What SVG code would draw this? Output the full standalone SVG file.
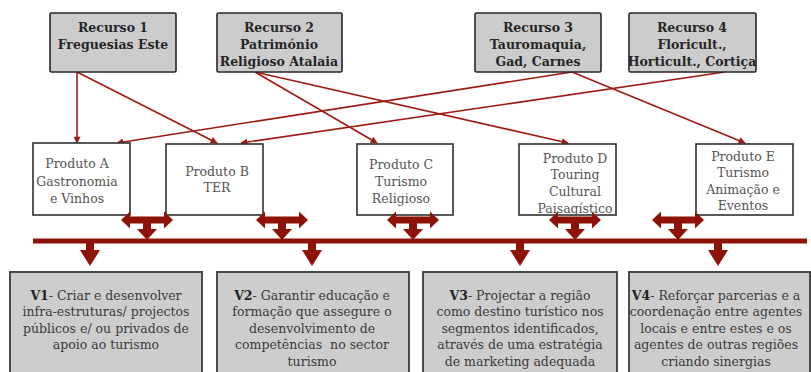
<svg xmlns="http://www.w3.org/2000/svg" width="811" height="372" viewBox="0 0 811 372">
<defs>
<style>
.res rect{fill:#cccccc;stroke:#262626;stroke-width:1.6}
.res text{font-family:"DejaVu Serif","Liberation Serif",serif;font-weight:bold;font-size:12.5px;fill:#262626;text-anchor:middle}
.prod rect{fill:#ffffff;stroke:#303030;stroke-width:1.6}
.prod text{font-family:"DejaVu Serif","Liberation Serif",serif;font-size:12.5px;fill:#555555;text-anchor:middle}
.vec rect{fill:#cdcdcd;stroke:#4a4a4a;stroke-width:2}
.vec text{font-family:"DejaVu Serif","Liberation Serif",serif;font-size:12.5px;fill:#3a3a3a;text-anchor:middle}
.vec tspan.b{font-weight:bold;fill:#222}
.conn line{stroke:#a01a14;stroke-width:1.6;marker-end:url(#ah)}
.blk{fill:#8e1208}
</style>
<marker id="ah" viewBox="0 0 10 10" refX="9" refY="5" markerWidth="8" markerHeight="7" markerUnits="userSpaceOnUse" orient="auto">
<path d="M0,0 L10,5 L0,10 Z" fill="#a01a14"/>
</marker>
<path id="lrd" d="M-26,220 L-17,211.5 L-17,216.5 L17,216.5 L17,211.5 L26,220 L17,228.5 L17,223.5 L4,223.5 L4,229 L10,229 L0,240 L-10,229 L-4,229 L-4,223.5 L-17,223.5 L-17,228.5 Z"/>
<path id="dn" d="M-4,242 L4,242 L4,250 L10,250 L0,266 L-10,250 L-4,250 Z"/>
</defs>
<rect width="811" height="372" fill="#ffffff"/>

<g id="connectors" class="conn">
<line x1="77" y1="72" x2="77" y2="143"/>
<line x1="77" y1="72" x2="217" y2="143"/>
<line x1="255" y1="72" x2="377" y2="143"/>
<line x1="255" y1="72" x2="568" y2="143"/>
<line x1="572" y1="72" x2="117" y2="143"/>
<line x1="572" y1="72" x2="745" y2="143"/>
<line x1="725" y1="72" x2="241" y2="143"/>
</g>

<g id="recurso1" class="res">
<rect x="50" y="13" width="126" height="59" rx="1.5"/>
<text x="113" y="31.5">Recurso 1</text>
<text x="113" y="48.5">Freguesias Este</text>
</g>
<g id="recurso2" class="res">
<rect x="217" y="13" width="125" height="59" rx="1.5"/>
<text x="279" y="31.5">Recurso 2</text>
<text x="279" y="48.5">Património</text>
<text x="279" y="65.5">Religioso Atalaia</text>
</g>
<g id="recurso3" class="res">
<rect x="475" y="13" width="126" height="59" rx="1.5"/>
<text x="538" y="31.5">Recurso 3</text>
<text x="538" y="48.5">Tauromaquia,</text>
<text x="538" y="65.5">Gad, Carnes</text>
</g>
<g id="recurso4" class="res">
<rect x="629" y="13" width="127" height="59" rx="1.5"/>
<text x="692" y="31.5">Recurso 4</text>
<text x="692" y="48.5">Floricult.,</text>
<text x="692" y="65.5">Horticult., Cortiça</text>
</g>

<g id="produtoA" class="prod">
<rect x="33" y="143" width="97" height="72"/>
<text x="77" y="167.5">Produto A</text>
<text x="77" y="185.5">Gastronomia</text>
<text x="77" y="202.5">e Vinhos</text>
</g>
<g id="produtoB" class="prod">
<rect x="166" y="144" width="97" height="71"/>
<text x="217" y="176">Produto B</text>
<text x="217" y="191.5">TER</text>
</g>
<g id="produtoC" class="prod">
<rect x="357" y="144" width="96" height="71"/>
<text x="401" y="168.5">Produto C</text>
<text x="401" y="185.5">Turismo</text>
<text x="401" y="202.5">Religioso</text>
</g>
<g id="produtoD" class="prod">
<rect x="519" y="144" width="97" height="71"/>
<text x="575" y="162.5">Produto D</text>
<text x="575" y="178.5">Touring</text>
<text x="575" y="195.5">Cultural</text>
<text x="575" y="212.5">Paisagístico</text>
</g>
<g id="produtoE" class="prod">
<rect x="696" y="144" width="97" height="71"/>
<text x="743" y="160.5">Produto E</text>
<text x="743" y="176.5">Turismo</text>
<text x="743" y="193.5">Animação e</text>
<text x="743" y="209.5">Eventos</text>
</g>

<g id="barra" class="blk">
<rect x="33" y="238.5" width="774" height="5"/>
<use href="#lrd" x="147"/>
<use href="#lrd" x="282"/>
<use href="#lrd" x="413"/>
<use href="#lrd" x="575"/>
<use href="#lrd" x="678"/>
<use href="#dn" x="90"/>
<use href="#dn" x="312"/>
<use href="#dn" x="520"/>
<use href="#dn" x="718"/>
</g>

<g id="v1" class="vec">
<rect x="10" y="272" width="192" height="110"/>
<text x="106" y="299.5"><tspan class="b">V1</tspan>- Criar e desenvolver</text>
<text x="106" y="316">infra-estruturas/ projectos</text>
<text x="106" y="332.5">públicos e/ ou privados de</text>
<text x="106" y="349">apoio ao turismo</text>
</g>
<g id="v2" class="vec">
<rect x="217" y="272" width="192" height="110"/>
<text x="312" y="299.5"><tspan class="b">V2</tspan>- Garantir educação e</text>
<text x="312" y="316">formação que assegure o</text>
<text x="312" y="332.5">desenvolvimento de</text>
<text x="312" y="349" xml:space="preserve">competências  no sector</text>
<text x="312" y="365.5">turismo</text>
</g>
<g id="v3" class="vec">
<rect x="423" y="272" width="194" height="110"/>
<text x="520" y="299.5"><tspan class="b">V3</tspan>- Projectar a região</text>
<text x="520" y="316">como destino turístico nos</text>
<text x="520" y="332.5">segmentos identificados,</text>
<text x="520" y="349">através de uma estratégia</text>
<text x="520" y="365.5">de marketing adequada</text>
</g>
<g id="v4" class="vec">
<rect x="629" y="272" width="181" height="110"/>
<text x="716" y="299.5"><tspan class="b">V4</tspan>- Reforçar parcerias e a</text>
<text x="716" y="316">coordenação entre agentes</text>
<text x="716" y="332.5">locais e entre estes e os</text>
<text x="716" y="349">agentes de outras regiões</text>
<text x="716" y="365.5">criando sinergias</text>
</g>
</svg>
